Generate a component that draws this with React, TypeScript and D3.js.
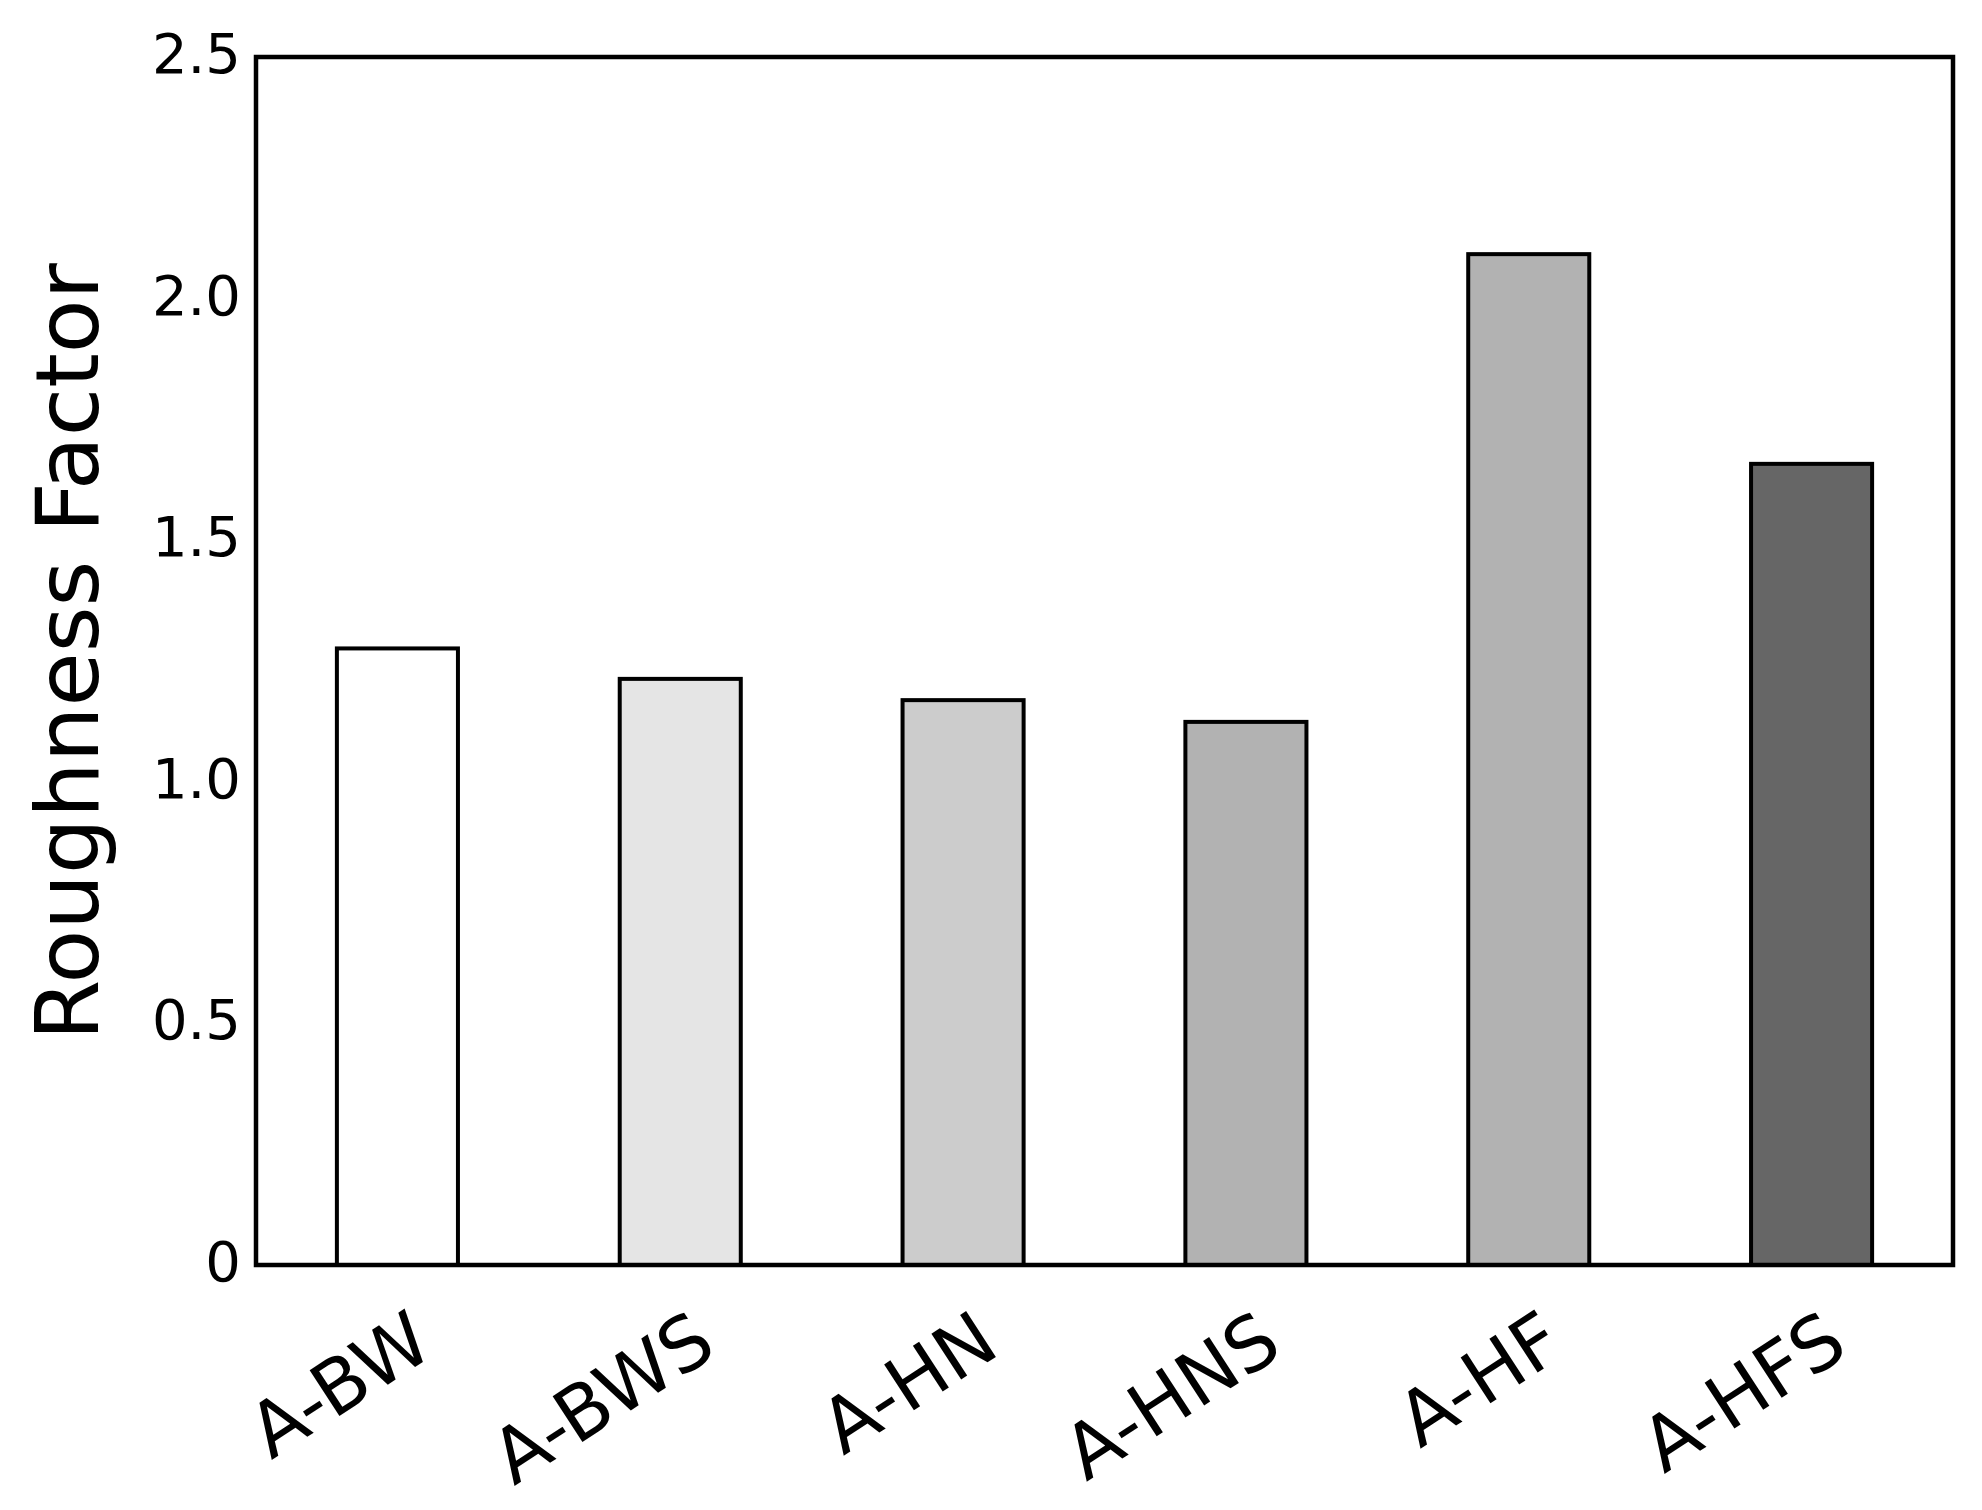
import React from 'react';
import * as d3 from 'd3';

const categories = ['A-BW', 'A-BWS', 'A-HN', 'A-HNS', 'A-HF', 'A-HFS'];
const roughness = [1.276, 1.213, 1.169, 1.124, 2.092, 1.658];
const barColors = ['#ffffff', '#e5e5e5', '#cccccc', '#b2b2b2', '#b2b2b2', '#666666'];
const yTicks = [0, 0.5, 1.0, 1.5, 2.0, 2.5];
const yTickLabels = ['0', '0.5', '1.0', '1.5', '2.0', '2.5'];
const yLabel = 'Roughness Factor';

const width = 1982,
      height = 1510;

const left = 256,
      right = 1953,
      top = 57,
      bottom = 1265;

const font = '"DejaVu Sans", sans-serif';

export default function App() {
  const x = d3.scaleBand()
    .domain(categories)
    .range([left, right])
    .paddingInner(0.572)
    .paddingOuter(0.286);

  const y = d3.scaleLinear()
    .domain([0, 2.5])
    .range([bottom, top]);

  const bw = x.bandwidth();

  return (
    <svg width={width} height={height}
      style={{ position: 'absolute', left: 0, top: 0, background: '#fff' }}>
      {/* bars */}
      {categories.map((c, i) => (
        <rect key={c}
          x={x(c)}
          y={y(roughness[i])}
          width={bw}
          height={y(0) - y(roughness[i])}
          fill={barColors[i]}
          stroke='#000'
          strokeWidth={4} />
      ))}

      {/* frame */}
      <rect x={left} y={top} width={right - left} height={bottom - top}
        fill='none' stroke='#000' strokeWidth={4.5} />

      {/* y tick labels */}
      {yTicks.map((t, i) => (
        <text key={t} x={241} y={y(t) + 16} textAnchor='end'
          fontFamily={font} fontSize={56} fill='#000'>
          {yTickLabels[i]}
        </text>
      ))}

      {/* x tick labels, rotated */}
      {categories.map(c => {
        const cx = x(c) + bw / 2 + 39;
        const cy = 1353;
        return (
          <text key={c} x={cx} y={cy} textAnchor='end'
            transform={'rotate(-33,' + cx + ',' + cy + ')'}
            fontFamily={font} fontSize={75} fill='#000'>
            {c}
          </text>
        );
      })}

      {/* y axis label */}
      <text x={98} y={652} textAnchor='middle'
        transform='rotate(-90,98,652)'
        fontFamily={font} fontSize={88} fill='#000'>
        {yLabel}
      </text>
    </svg>
  );
}
